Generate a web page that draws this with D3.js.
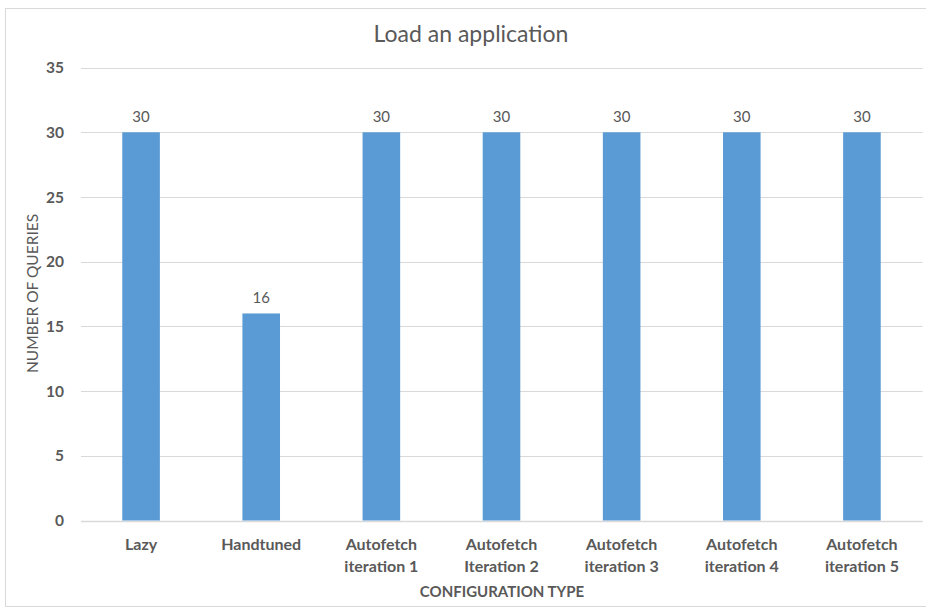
<!DOCTYPE html>
<html><head><meta charset="utf-8">
<script src="https://cdn.jsdelivr.net/npm/d3@7"></script>
<style>body{margin:0;background:#fff}svg{display:block}</style>
</head><body>
<script>
const categories = [["Lazy"],["Handtuned"],["Autofetch","iteration 1"],["Autofetch","Iteration 2"],["Autofetch","iteration 3"],["Autofetch","iteration 4"],["Autofetch","iteration 5"]];
const values = [30,16,30,30,30,30,30];
const yTicks = [0,5,10,15,20,25,30,35];
const title = "Load an application";
const xTitle = "CONFIGURATION TYPE";
const yTitle = "NUMBER OF QUERIES";

const W=926,H=609;
const m={left:81,right:4,top:67.6,bottom:88.5};
const font="Lato, 'Open Sans', sans-serif";
const txt="#595959";
const svg=d3.select("body").append("svg").attr("width",W).attr("height",H);
svg.append("rect").attr("x",5.5).attr("y",8.5).attr("width",W).attr("height",598).attr("fill","#fff").attr("stroke","#d9d9d9");

const ids=categories.map((c,i)=>i);
const x=d3.scaleBand().domain(ids).range([m.left,W-m.right]).paddingInner(0.687).paddingOuter(0.3435);
const y=d3.scaleLinear().domain([0,35]).range([H-m.bottom,m.top]);

const g=svg.append("g");
g.selectAll("line.grid").data(yTicks).join("line").attr("class","grid")
 .attr("x1",m.left).attr("x2",W-m.right+0.7).attr("y1",d=>Math.round(y(d))+0.5).attr("y2",d=>Math.round(y(d))+0.5)
 .attr("stroke","#d9d9d9").attr("stroke-width",d=>d===0?1.6:1);

g.selectAll("rect.bar").data(values).join("rect").attr("class","bar")
 .attr("x",(d,i)=>x(i)).attr("width",x.bandwidth()).attr("y",d=>y(d)).attr("height",d=>y(0)-y(d)).attr("fill","#5b9bd5");

g.selectAll("text.val").data(values).join("text").attr("class","val")
 .attr("x",(d,i)=>x(i)+x.bandwidth()/2).attr("y",d=>y(d)-10.5).attr("text-anchor","middle")
 .attr("font-family",font).attr("font-size",15).attr("fill",txt).text(d=>d);

g.selectAll("text.yt").data(yTicks).join("text").attr("class","yt")
 .attr("x",64).attr("y",d=>y(d)).attr("dy","0.36em").attr("text-anchor","end")
 .attr("font-family",font).attr("font-size",15.5).attr("font-weight","bold").attr("fill",txt).text(d=>d);

const cl=g.selectAll("text.cat").data(categories).join("text").attr("class","cat")
 .attr("text-anchor","middle").attr("font-family",font).attr("font-size",16).attr("font-weight","bold").attr("fill",txt);
cl.each(function(c,i){
  d3.select(this).selectAll("tspan").data(c).join("tspan").attr("x",x(i)+x.bandwidth()/2).attr("y",(d,j)=>550+j*21.7).text(d=>d);
});

svg.append("text").attr("x",471).attr("y",41.5).attr("text-anchor","middle").attr("font-family",font).attr("font-size",23).attr("fill",txt).text(title);
svg.append("text").attr("x",502).attr("y",597).attr("text-anchor","middle").attr("font-family",font).attr("font-size",15).attr("font-weight","bold").attr("fill",txt).text(xTitle);
svg.append("text").attr("transform","translate(37.5,293.5) rotate(-90)").attr("text-anchor","middle").attr("font-family",font).attr("font-size",15.5).attr("fill",txt).text(yTitle);
</script>
</body></html>
